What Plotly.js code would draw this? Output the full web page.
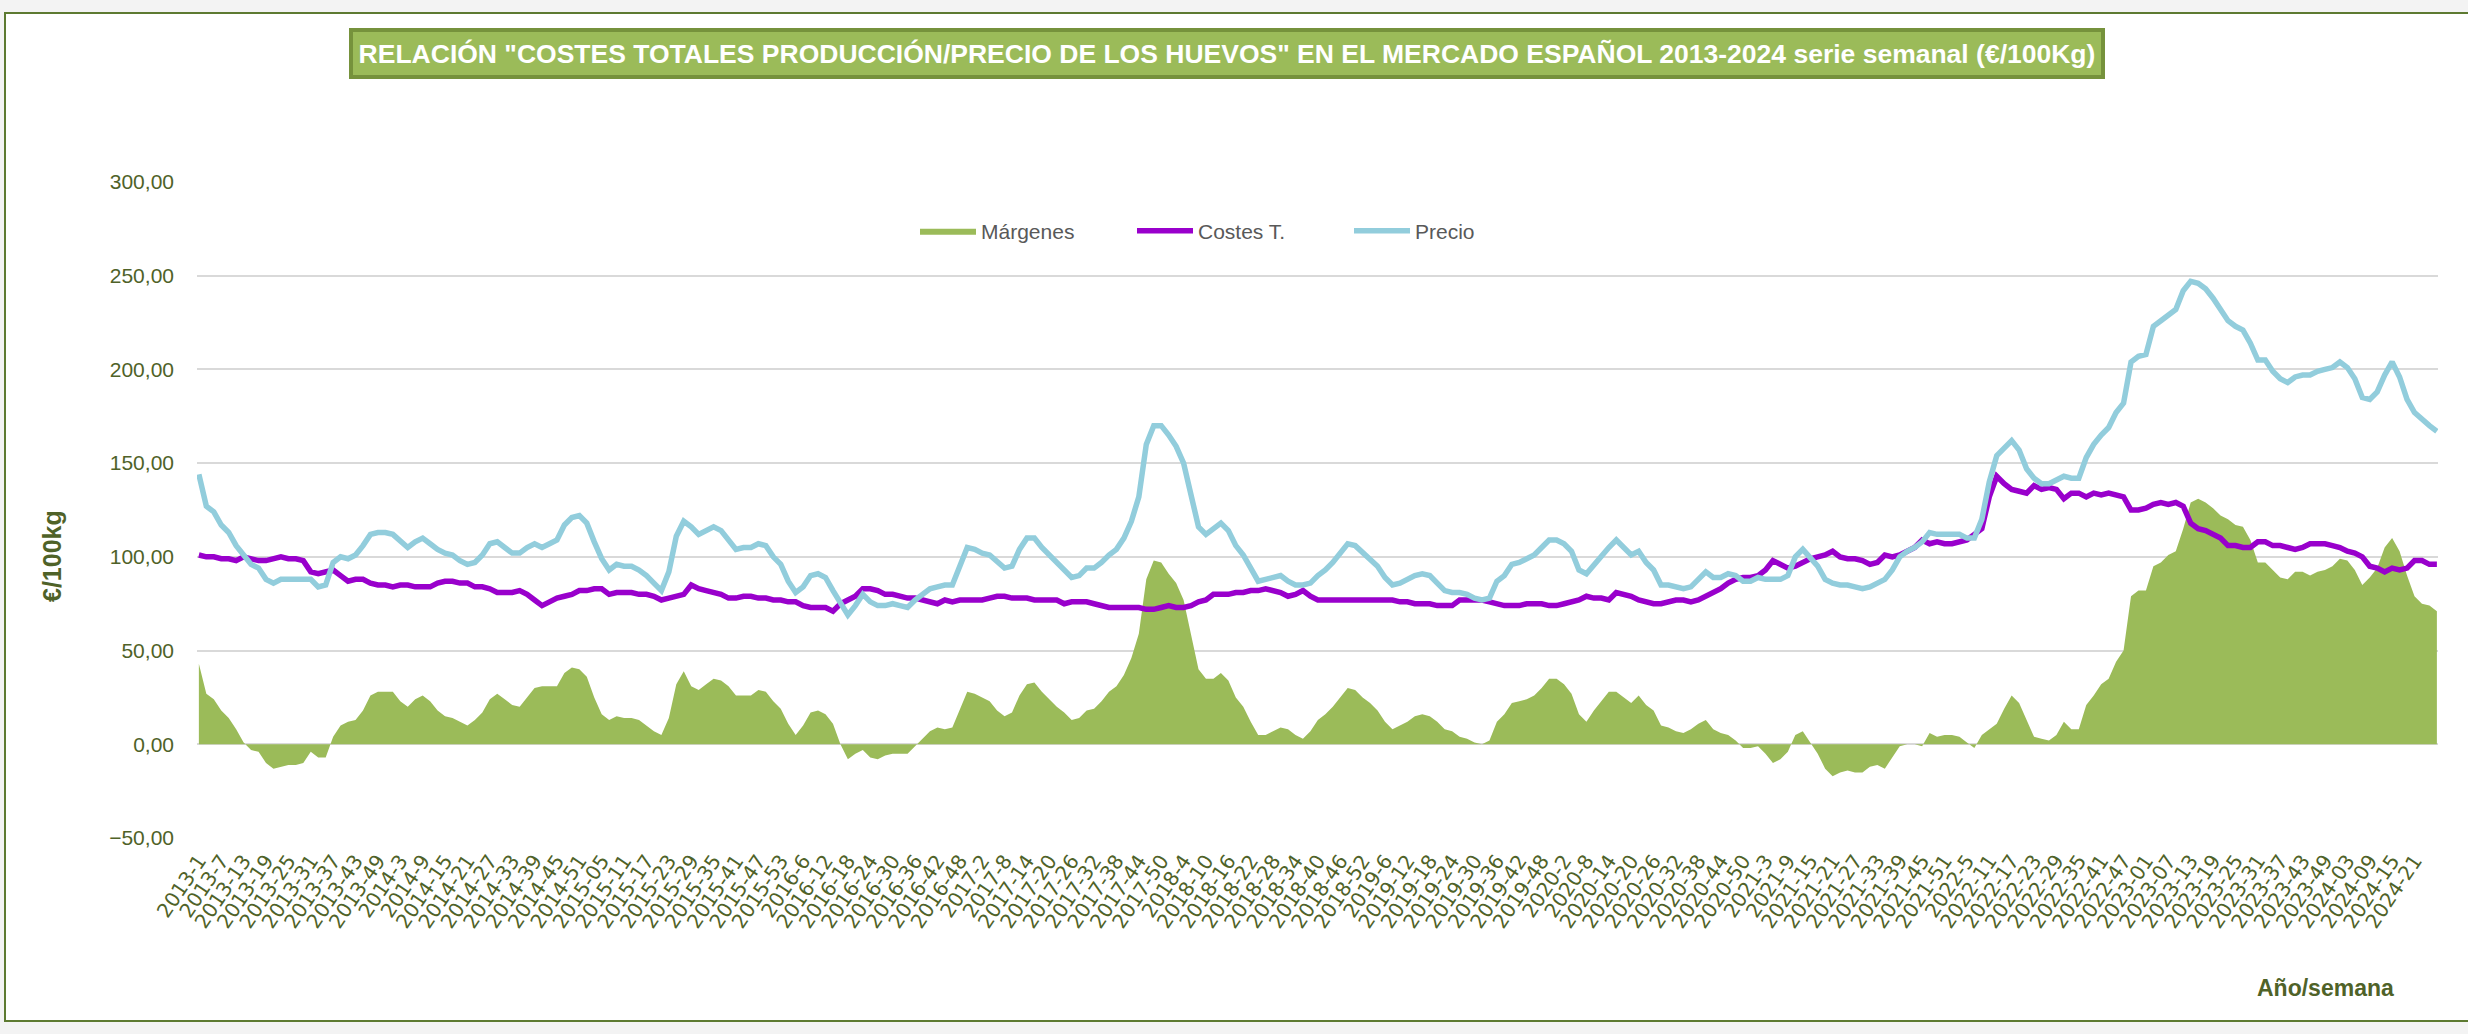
<!DOCTYPE html>
<html>
<head>
<meta charset="utf-8">
<script src="https://cdn.plot.ly/plotly-3.0.1.min.js"></script>
<style>
  html, body { margin:0; padding:0; width:2468px; height:1034px; overflow:hidden; background:#f3f3f3; }
  #frame { position:absolute; left:4px; top:12px; width:2480px; height:1006px; border:2px solid #5d7a31; background:#ffffff; }
  #chart { position:absolute; left:0; top:0; width:2468px; height:1034px; }
</style>
</head>
<body>
<div id="frame"></div>
<div id="chart"></div>
<script>
// ---- Data (one value every 2 weeks, starting 2013-1) ----
const years        = [2013, 2014, 2015, 2016, 2017, 2018, 2019, 2020, 2021, 2022, 2023, 2024];
const weeksPerYear = [52,   52,   53,   52,   52,   52,   52,   53,   52,   52,   52,   27];
const paddedYears  = [2015, 2023, 2024];

// Precio (€/100kg)
const precio = [
144,127,124,117,113,106,101,96,94,88,86,88,88,88,88,88,84,85,97,100,
99,101,106,112,113,113,112,108,105,108,110,107,104,102,101,98,96,97,101,107,
108,105,102,102,105,107,105,107,109,117,121,122,118,108,99,93,96,95,95,93,
90,86,82,92,111,119,116,112,114,116,114,109,104,105,105,107,106,100,96,87,
81,84,90,91,89,82,75,69,74,80,76,74,74,75,74,73,77,80,83,84,
85,85,96,105,104,102,101,97,94,95,104,110,110,105,101,97,92,89,90,94,
94,97,101,104,110,119,132,160,170,170,165,159,150,133,116,112,115,118,114,106,
101,94,87,88,89,90,87,85,85,86,90,93,97,102,107,106,102,99,95,89,
85,86,88,90,91,90,86,82,81,81,80,78,77,78,87,90,96,97,99,101,
105,109,109,107,103,93,91,96,101,105,109,105,101,103,97,93,85,85,84,83,
84,88,92,89,89,91,90,87,87,89,88,88,88,90,100,104,100,95,88,86,
85,85,84,83,84,86,88,93,100,103,105,108,113,112,112,112,112,110,110,120,
140,154,158,162,157,147,142,139,139,141,143,142,142,153,160,165,169,177,182,204,
207,208,223,226,229,232,242,247,246,243,238,232,226,223,221,214,205,205,199,195,
193,196,197,197,199,200,201,204,201,195,185,184,188,197,204,196,184,177,173,170,
167
];

// Costes totales (€/100kg)
const costes = [
101,100,100,99,99,98,100,99,98,98,99,100,99,99,98,92,91,92,93,90,
87,88,88,86,85,85,84,85,85,84,84,84,86,87,87,86,86,84,84,83,
81,81,81,82,80,77,74,76,78,79,80,82,82,83,83,80,81,81,81,80,
80,79,77,78,79,80,85,83,82,81,80,78,78,79,79,78,78,77,77,76,
76,74,73,73,73,71,75,77,79,83,83,82,80,80,79,78,78,77,76,75,
77,76,77,77,77,77,78,79,79,78,78,78,77,77,77,77,75,76,76,76,
75,74,73,73,73,73,73,72,72,73,74,73,73,74,76,77,80,80,80,81,
81,82,82,83,82,81,79,80,82,79,77,77,77,77,77,77,77,77,77,77,
77,76,76,75,75,75,74,74,74,77,77,77,77,76,75,74,74,74,75,75,
75,74,74,75,76,77,79,78,78,77,81,80,79,77,76,75,75,76,77,77,
76,77,79,81,83,86,88,89,89,90,93,98,96,94,95,97,99,100,101,103,
100,99,99,98,96,97,101,100,101,103,105,109,107,108,107,107,108,109,112,115,
132,143,139,136,135,134,138,136,137,136,131,134,134,132,134,133,134,133,132,125,
125,126,128,129,128,129,127,118,115,114,112,110,106,106,105,105,108,108,106,106,
105,104,105,107,107,107,106,105,103,102,100,95,94,92,94,93,94,98,98,96,
96
];

// ---- Category labels (Año-semana) ----
const labels = [];
years.forEach((y, k) => {
  for (let w = 1; w <= weeksPerYear[k]; w++) {
    const ws = (paddedYears.includes(y) && w < 10) ? ('0' + w) : String(w);
    labels.push(y + '-' + ws);
  }
});
// a label every 6 weeks; the last, too close to the edge, is not shown
const tickLabels = labels.filter((_, i) => i % 6 === 0 && i <= labels.length - 7);
const xData = labels.filter((_, i) => i % 2 === 0).slice(0, precio.length);
const margenes = precio.map((p, i) => p - costes[i]);

const green = '#9bbb59', purple = '#9900cc', blue = '#92cddc', olive = '#4f6228';

const traces = [
  { x: xData, y: margenes, name: 'Márgenes', type: 'scatter', mode: 'lines',
    fill: 'tozeroy', fillcolor: green, line: { width: 0, color: green } },
  { x: xData, y: costes, name: 'Costes T.', type: 'scatter', mode: 'lines',
    line: { width: 5.5, color: purple } },
  { x: xData, y: precio, name: 'Precio', type: 'scatter', mode: 'lines',
    line: { width: 5.5, color: blue } }
];

const L = 197, R = 2438, T = 182, B = 838;
const px = v => (v - L) / (R - L);
const py = v => (B - v) / (B - T);

const layout = {
  width: 2468, height: 1034,
  paper_bgcolor: 'rgba(0,0,0,0)', plot_bgcolor: 'rgba(0,0,0,0)',
  margin: { l: L, r: 2468 - R, t: T, b: 1034 - B, pad: 0 },
  separators: ',.',
  showlegend: true,
  legend: {
    orientation: 'h', x: px(915), y: py(231), xanchor: 'left', yanchor: 'middle',
    font: { family: 'Liberation Sans, Arial, sans-serif', size: 21, color: '#595959' },
    itemwidth: 56, entrywidth: 146, entrywidthmode: 'pixels', bgcolor: 'rgba(0,0,0,0)'
  },
  xaxis: {
    type: 'category', categoryorder: 'array', categoryarray: labels,
    tickmode: 'array', tickvals: tickLabels, ticktext: tickLabels,
    tickangle: -56, ticks: '', ticklabelstandoff: 6,
    tickfont: { family: 'DejaVu Sans, sans-serif', size: 20, color: olive },
    showgrid: false, showline: false, zeroline: false,
    range: [-0.5, labels.length - 0.7], fixedrange: true
  },
  yaxis: {
    range: [-50, 300], dtick: 50, tick0: 0, tickformat: '.2f',
    showgrid: true, gridcolor: '#d9d9d9', gridwidth: 2,
    zeroline: false, showline: false, ticks: '', ticklabelstandoff: 22,
    tickfont: { family: 'Liberation Sans, Arial, sans-serif', size: 21, color: olive },
    fixedrange: true
  },
  annotations: [
    { xref: 'paper', yref: 'paper', x: px(1227), y: py(53.5), xanchor: 'center', yanchor: 'middle',
      text: '<b>RELACIÓN "COSTES TOTALES PRODUCCIÓN/PRECIO DE LOS HUEVOS" EN EL MERCADO ESPAÑOL 2013-2024 serie semanal (€/100Kg)</b>',
      showarrow: false, width: 1748, height: 43, bgcolor: green, bordercolor: '#76923c', borderwidth: 4, borderpad: 0,
      font: { family: 'Liberation Sans, Arial, sans-serif', size: 26.5, color: '#ffffff' } },
    { xref: 'paper', yref: 'paper', x: px(52), y: py(556), xanchor: 'center', yanchor: 'middle',
      text: '<b>€/100kg</b>', textangle: -90, showarrow: false,
      font: { family: 'Liberation Sans, Arial, sans-serif', size: 25, color: olive } },
    { xref: 'paper', yref: 'paper', x: px(2325), y: py(988), xanchor: 'center', yanchor: 'middle',
      text: '<b>Año/semana</b>', showarrow: false,
      font: { family: 'Liberation Sans, Arial, sans-serif', size: 23, color: olive } }
  ]
};

Plotly.newPlot('chart', traces, layout, { displayModeBar: false, staticPlot: true });
</script>
</body>
</html>
